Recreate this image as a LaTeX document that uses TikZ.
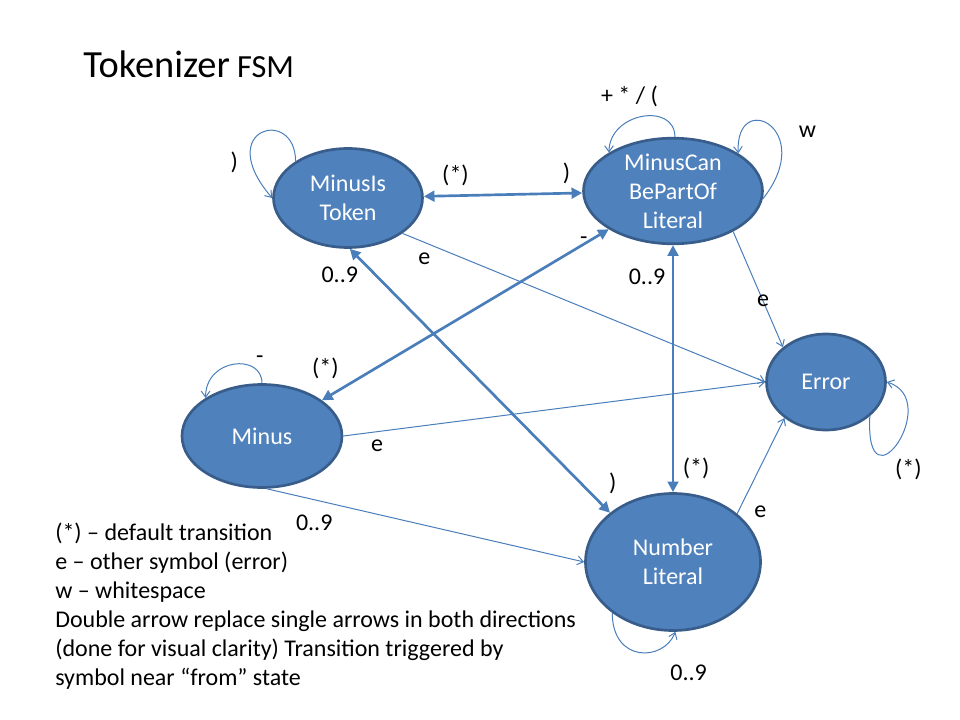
\documentclass[tikz,border=0pt]{standalone}
\usepackage{fontspec}
\setmainfont{Carlito}
\usetikzlibrary{arrows.meta,shapes.geometric}
\definecolor{stateblue}{HTML}{4F81BD}
\definecolor{stateedge}{HTML}{385D8A}
\definecolor{lineblue}{HTML}{4A7EBB}

\begin{document}
\begin{tikzpicture}[
            x = 0.75pt, y = -0.75pt, % one unit per pixel, y runs down
            state/.style = {shape=ellipse, fill=stateblue, draw=stateedge, line width=2pt, text=white, inner sep=0pt, align=center, font=\fontsize{18}{21.75}\selectfont},
            dbl/.style = {color=lineblue, line width=2pt, > = {Triangle[length=8pt,width=8pt]}, <->}, % both directions
            one/.style = {color=lineblue, line width=0.75pt, > = {Straight Barb[length=4.5pt,width=6.5pt]}, ->},
            lbl/.style = {text=black, inner sep=1pt, font=\fontsize{18}{21.75}\selectfont}
        ]
\useasboundingbox (0,0) rectangle (960,720);

\node[anchor=base west, inner sep=0pt] (title) at (83,78) {\fontsize{28.8}{34}\selectfont Tokenizer\fontsize{24.2}{29}\selectfont{} FSM};

\node[state, minimum width=111.75pt, minimum height=74.25pt] (T) at (348,198) {MinusIs\\Token};
\node[state, minimum width=134.25pt, minimum height=77.25pt] (C) at (673,191) {MinusCan\\BePartOf\\Literal};
\node[state, minimum width=120pt, minimum height=77.25pt] (M) at (262,436) {Minus};
\node[state, minimum width=89.25pt, minimum height=72pt] (E) at (826,382) {Error};
\node[state, minimum width=131.25pt, minimum height=102.75pt] (N) at (673,562) {Number\\Literal};

 \path [dbl] (T) edge node[lbl, pos=0.2, yshift=15pt] {(*)} node[lbl, pos=0.9, yshift=14.7pt] {)} (C);
 \path [dbl] (C) edge node[lbl, pos=0.05, xshift=-8pt, yshift=-2.5pt] {-} node[lbl, pos=0.95, xshift=-8.2pt, yshift=17.5pt] {(*)} (M);
 \path [dbl] (T.272) edge node[lbl, pos=0.1, xshift=-27pt] {0..9} node[lbl, pos=0.9, xshift=21.6pt, yshift=2.3pt] {)} (N.142);
 \path [dbl] (C) edge node[lbl, pos=0.13, xshift=-19.5pt] {0..9} node[lbl, pos=0.9, xshift=17.3pt, yshift=-1pt] {(*)} (N);

 \path [one] (T.-33) edge node[lbl, pos=0.06, yshift=-12pt] {e} (E.west);
 \path [one] (M.east) edge node[lbl, pos=0.08, yshift=-10.7pt] {e} (E.west);
 \path [one] (M.-85) edge node[lbl, pos=0.15, yshift=-17pt] {0..9} (N.west);
 \path [one] (C.-34) edge node[lbl, pos=0.6] {e} (E.141);
 \path [one] (N.37) edge node[lbl, pos=0.05, xshift=15.6pt, yshift=-2.2pt] {e} (E.221);

% self loops
\draw [one] (T.145) .. controls +(0,-55) and +(-60,-70) .. (T.180) node[lbl, pos=0.8, xshift=-13pt] {)};
\draw [one] (C.88) .. controls +(0,-35) and +(0,-40) .. (C.149) node[lbl, pos=0.5, xshift=-9.4pt, yshift=15pt] {+ * / (};
\draw [one] (C.355) .. controls +(55,-70) and +(-3,-65) .. (C.30) node[lbl, pos=0.5, xshift=28pt, yshift=-4.5pt] {w};
\draw [one] (M.90) .. controls +(0,-30) and +(0,-40) .. (M.146) node[lbl, pos=0.5, xshift=19.5pt, yshift=3.5pt] {-};
\draw [one] (E.-38) .. controls +(-5,98) and +(57,18) .. (E.east) node[lbl, pos=0.4, xshift=13.7pt, yshift=-13pt] {(*)};
\draw [one] (N.220) .. controls +(0,50) and +(-12,30) .. (N.272) node[lbl, pos=0.5, xshift=37pt, yshift=-15pt] {0..9};

\node[lbl, anchor=north west, inner sep=0pt, align=left] (key) at (55,523) {(*) – default transition\\e – other symbol (error)\\w – whitespace\\Double arrow replace single arrows in both directions\\(done for visual clarity) Transition triggered by\\symbol near “from” state};
\end{tikzpicture}
\end{document}
